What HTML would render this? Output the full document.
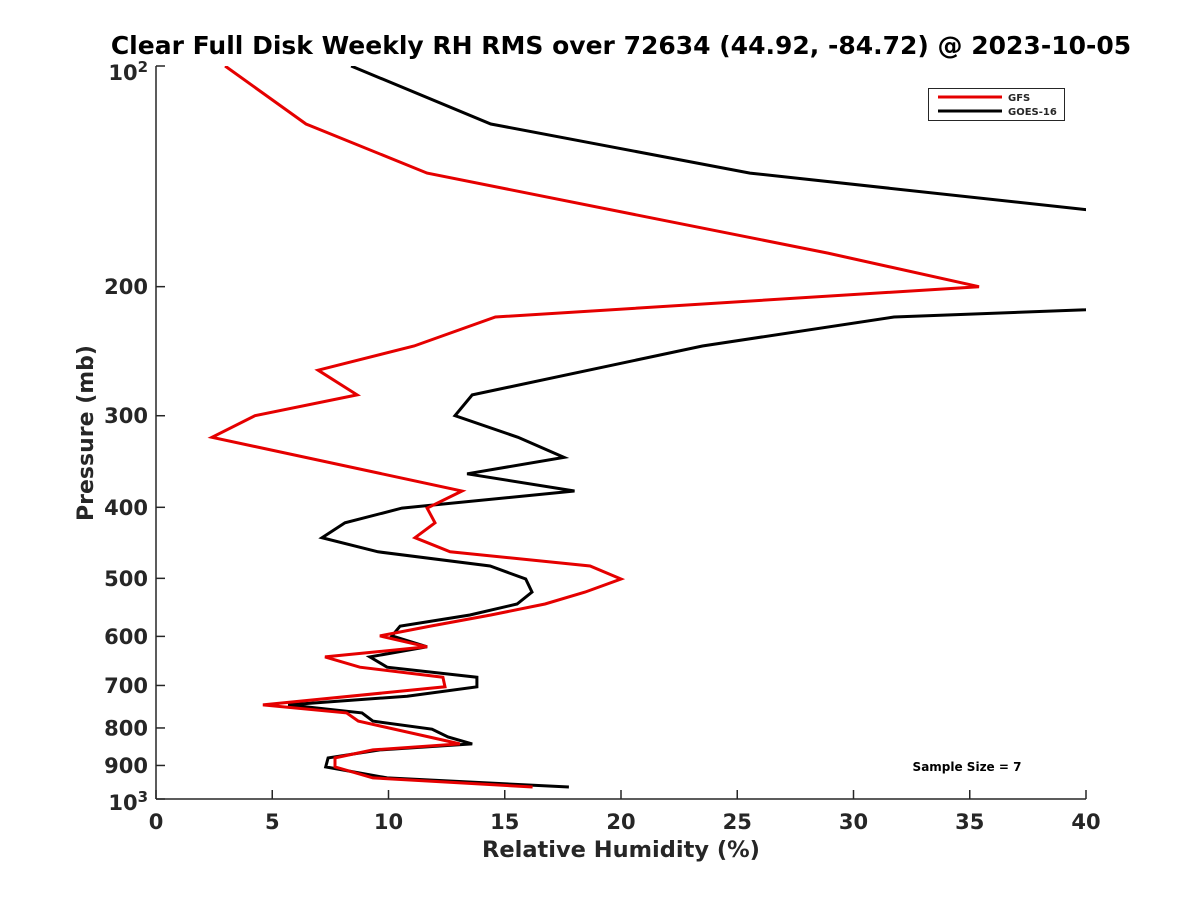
<!DOCTYPE html>
<html><head><meta charset="utf-8"><style>
html,body{margin:0;padding:0;background:#fff;}
svg{display:block;font-family:"DejaVu Sans","Liberation Sans",sans-serif;font-weight:bold;}
</style></head><body>
<svg id="chart" width="1200" height="900" viewBox="0 0 1200 900">
<defs><clipPath id="plotclip"><rect x="156" y="66" width="930" height="733"/></clipPath></defs>
<text x="621" y="54" text-anchor="middle" font-size="25" fill="#000">Clear Full Disk Weekly RH RMS over 72634 (44.92, -84.72) @ 2023-10-05</text>
<g id="axes"></g>
<g id="series" clip-path="url(#plotclip)"></g>
<text x="621" y="857" text-anchor="middle" font-size="22.5" fill="#262626">Relative Humidity (%)</text>
<text transform="translate(93,433) rotate(-90)" text-anchor="middle" font-size="22" fill="#262626">Pressure (mb)</text>
<g>
<rect x="928.5" y="88.5" width="136" height="32" fill="#fff" stroke="#262626" stroke-width="1"/>
<line x1="938" y1="97" x2="1002" y2="97" stroke="#e50000" stroke-width="3"/>
<text x="1008" y="101" font-size="10" fill="#262626">GFS</text>
<line x1="938" y1="111" x2="1002" y2="111" stroke="#000" stroke-width="3"/>
<text x="1008" y="115" font-size="10" fill="#262626">GOES-16</text>
</g>
<text x="967" y="771" text-anchor="middle" font-size="12" fill="#000">Sample Size = 7</text>
</svg>
<script>
const xTicks = [0, 5, 10, 15, 20, 25, 30, 35, 40];
const yTicks = [100, 200, 300, 400, 500, 600, 700, 800, 900, 1000];
const gfsPressure = [100,120,140,180,200,220,241,260,281,300,321,380,401,420,440,460,481,501,522,542,561,581,599,620,640,661,682,703,744,763,783,841,857,879,904,936,963];
const gfsRH = [2.97,6.45,11.66,28.9,35.4,14.6,11.1,6.97,8.65,4.26,2.41,13.16,11.66,12.0,11.14,12.65,18.67,20.0,18.45,16.73,14.4,11.8,9.63,11.66,7.27,8.77,12.34,12.43,4.6,8.2,8.7,13.07,9.33,7.7,7.7,9.33,16.2];
const goesPressure = [100,120,140,157,185,215,220,241,281,300,321,342,360,380,401,420,440,460,481,501,522,542,561,581,599,620,640,661,682,703,724,744,763,783,803,823,841,857,879,904,936,963];
const goesRH = [8.39,14.4,25.55,40,52,40,31.74,23.5,13.6,12.86,15.57,17.55,13.38,18.0,10.58,8.13,7.14,9.55,14.37,15.9,16.17,15.53,13.5,10.5,10.15,11.66,9.2,9.94,13.8,13.8,10.8,5.68,8.86,9.33,11.87,12.56,13.6,9.63,7.4,7.3,9.94,17.76];

const NS = "http://www.w3.org/2000/svg";
const X0 = 156, X1 = 1086, Y0 = 66, Y1 = 799;
function xScale(v){ return X0 + (v - 0) / 40 * (X1 - X0); }
function yScale(p){ return Y0 + (Math.log10(p) - 2) * (Y1 - Y0); }
function mk(tag, attrs, parent){ const e = document.createElementNS(NS, tag); for (const k in attrs) e.setAttribute(k, attrs[k]); parent.appendChild(e); return e; }

const axes = document.getElementById('axes');
const ax = mk('line', {x1:X0, y1:Y1, x2:X1, y2:Y1, stroke:'#262626', 'stroke-width':1.5}, axes);


const ay = mk('line', {x1:X0, y1:Y0, x2:X0, y2:Y1, stroke:'#262626', 'stroke-width':1.5}, axes);



xTicks.forEach(function(t){
  const x = xScale(t);
  const tk = mk('line', {x1:x, y1:Y1, x2:x, y2:Y1 - 9, stroke:'#262626', 'stroke-width':1.5}, axes);
  
  
  const lb = mk('text', {x:x, y:829, 'text-anchor':'middle', 'font-size':21, fill:'#262626'}, axes);
  lb.textContent = String(t);
  
  
});

yTicks.forEach(function(p){
  const y = yScale(p);
  const tk = mk('line', {x1:X0, y1:y, x2:X0 + 9, y2:y, stroke:'#262626', 'stroke-width':1.5}, axes);
  
  
  const lb = mk('text', {x:148, y:y + 7.5, 'text-anchor':'end', 'font-size':21, fill:'#262626'}, axes);
  if (p === 100 || p === 1000) {
    lb.setAttribute('y', y + (p === 100 ? 14 : 11));
    lb.textContent = '10';
    const sup = document.createElementNS(NS, 'tspan');
    sup.setAttribute('dy', '-8');
    sup.setAttribute('font-size', '15');
    sup.textContent = p === 100 ? '2' : '3';
    lb.appendChild(sup);
  } else {
    lb.textContent = String(p);
  }
  
  
});

const series = document.getElementById('series');
function drawLine(press, vals, color, name){
  const pts = press.map(function(p, i){ return xScale(vals[i]).toFixed(1) + ',' + yScale(p).toFixed(1); }).join(' ');
  const pl = mk('polyline', {points:pts, fill:'none', stroke:color, 'stroke-width':3, 'stroke-linejoin':'miter'}, series);
  
  
}
drawLine(goesPressure, goesRH, '#000000', 'goes16-line');
drawLine(gfsPressure, gfsRH, '#e50000', 'gfs-line');
</script>
</body></html>
